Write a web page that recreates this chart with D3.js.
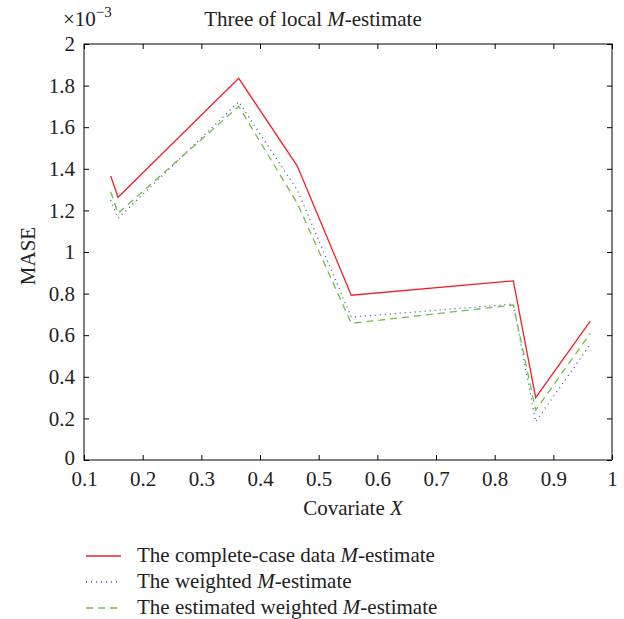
<!DOCTYPE html>
<html lang="en">
<head>
<meta charset="utf-8">
<script src="https://d3js.org/d3.v7.min.js"></script>
<style>
  body { margin: 0; background: #fff; }
  text { font-family: "Liberation Serif", "DejaVu Serif", serif; fill: #222; }
</style>
</head>
<body>
<script>
// covariate positions (shared by all three curves)
const xs = [0.1455, 0.158, 0.3637, 0.4636, 0.5556, 0.8318, 0.8699, 0.963];
// MASE values, in units of 1e-3
const completeCase = [1.365, 1.263, 1.835, 1.413, 0.792, 0.861, 0.300, 0.668];
const weighted     = [1.250, 1.162, 1.722, 1.298, 0.687, 0.750, 0.184, 0.556];
const estWeighted  = [1.290, 1.186, 1.700, 1.234, 0.657, 0.745, 0.240, 0.609];
const xTicks = [0.1, 0.2, 0.3, 0.4, 0.5, 0.6, 0.7, 0.8, 0.9, 1];
const yTicks = [0, 0.2, 0.4, 0.6, 0.8, 1, 1.2, 1.4, 1.6, 1.8, 2];

const series = [
  {name: "The complete-case data ", vals: completeCase, color: "#ee2228", dash: null, w: 1.3},
  {name: "The weighted ", vals: weighted, color: "#3d56b8", dash: "1,4", w: 1.3},
  {name: "The estimated weighted ", vals: estWeighted, color: "#72bd45", dash: "7,5", w: 1.3}
];

const W = 624, H = 619;
const mLeft = 84, mRight = 612, mTop = 44, mBottom = 460;
const FS = 21;

const svg = d3.select("body").append("svg").attr("width", W).attr("height", H);

const x = d3.scaleLinear().domain([0.1, 1]).range([mLeft, mRight]);
const y = d3.scaleLinear().domain([0, 2]).range([mBottom, mTop]);

// frame
svg.append("rect").attr("x", mLeft).attr("y", mTop)
   .attr("width", mRight - mLeft).attr("height", mBottom - mTop)
   .attr("fill", "none").attr("stroke", "#000").attr("stroke-width", 1);

const fmt = d => (d === 0 || d === 1 || d === 2) ? String(d) : d3.format(".1f")(d);

// axes with inward ticks
const gx = svg.append("g").attr("transform", `translate(0,${mBottom})`)
  .call(d3.axisBottom(x).tickValues(xTicks).tickSize(-5).tickPadding(11).tickFormat(fmt));
const gxTop = svg.append("g").attr("transform", `translate(0,${mTop})`)
  .call(d3.axisTop(x).tickValues(xTicks).tickSize(-5).tickFormat(""));
const gy = svg.append("g").attr("transform", `translate(${mLeft},0)`)
  .call(d3.axisLeft(y).tickValues(yTicks).tickSize(-5).tickPadding(9).tickFormat(fmt));
const gyR = svg.append("g").attr("transform", `translate(${mRight},0)`)
  .call(d3.axisRight(y).tickValues(yTicks).tickSize(-5).tickFormat(""));

[gx, gxTop, gy, gyR].forEach(g => {
  g.select(".domain").remove();
  g.selectAll("line").attr("stroke", "#000");
  g.selectAll("text").attr("font-size", FS).attr("fill", "#222")
    .attr("font-family", "Liberation Serif, serif");
});
// keep the "0" label clear of the "0.1" label below it
gy.selectAll("text").filter(d => d === 0).attr("dy", "0.22em");

// curves
const line = d3.line().x((d, i) => x(xs[i])).y(d => y(d));
series.forEach(s => {
  svg.append("path").datum(s.vals)
    .attr("d", line)
    .attr("fill", "none")
    .attr("stroke", s.color)
    .attr("stroke-width", s.w)
    .attr("stroke-dasharray", s.dash);
});

// exponent label
const ex = svg.append("text").attr("x", 63).attr("y", 26).attr("font-size", FS);
ex.append("tspan").text("×10");
ex.append("tspan").attr("dy", -9).attr("font-size", 15).text("−3");

// title
const t = svg.append("text").attr("x", 313).attr("y", 26)
  .attr("text-anchor", "middle").attr("font-size", FS);
t.append("tspan").text("Three of local ");
t.append("tspan").attr("font-style", "italic").text("M");
t.append("tspan").text("-estimate");

// axis titles
const xl = svg.append("text").attr("x", 353).attr("y", 515)
  .attr("text-anchor", "middle").attr("font-size", FS);
xl.append("tspan").text("Covariate ");
xl.append("tspan").attr("font-style", "italic").text("X");

svg.append("text").attr("transform", "translate(35,256) rotate(-90)")
  .attr("text-anchor", "middle").attr("font-size", FS).text("MASE");

// legend
const leg = svg.append("g");
series.forEach((s, i) => {
  const ly = 556 + i * 26;
  leg.append("line").attr("x1", 86).attr("x2", 121).attr("y1", ly).attr("y2", ly)
    .attr("stroke", s.color).attr("stroke-width", s.w).attr("stroke-dasharray", s.dash);
  const tx = leg.append("text").attr("x", 137).attr("y", ly + 6).attr("font-size", FS);
  tx.append("tspan").text(s.name);
  tx.append("tspan").attr("font-style", "italic").text("M");
  tx.append("tspan").text("-estimate");
});
</script>
</body>
</html>
